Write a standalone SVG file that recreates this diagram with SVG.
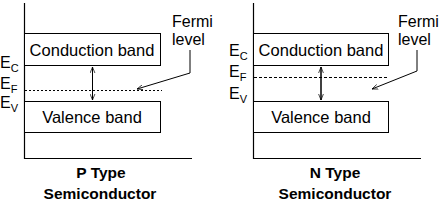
<svg xmlns="http://www.w3.org/2000/svg" width="445" height="202" viewBox="0 0 445 202">
<style>
.box{fill:#fff;stroke:#000;stroke-width:1}
.ax{fill:none;stroke:#000;stroke-width:1.2}
.t{font-family:"Liberation Sans",Arial,sans-serif;fill:#000}
.band{font-size:16.5px;text-anchor:middle}
.e{font-size:16px}
.sub{font-size:11px}
.lab{font-size:16px}
.cap{font-size:15.5px;font-weight:bold;text-anchor:middle}
.ptr{fill:none;stroke:#000;stroke-width:1}
</style>
<defs>
<marker id="ah" viewBox="0 0 10 10" refX="10" refY="5" markerWidth="6" markerHeight="6" orient="auto-start-reverse" markerUnits="userSpaceOnUse">
<polyline points="0,1 10,5 0,9" fill="none" stroke="#000" stroke-width="1.2"/>
</marker>
</defs>
<g id="p-axes">
<path class="ax" d="M24.5,3 V158.5 H192"/>
</g>
<g id="p-conduction">
<rect class="box" x="24.5" y="33.5" width="136" height="32"/>
<text class="t band" x="92" y="56">Conduction band</text>
</g>
<g id="p-valence">
<rect class="box" x="24.5" y="101.5" width="136" height="31"/>
<text class="t band" x="92" y="123">Valence band</text>
</g>
<g id="p-labels">
<text class="t e" x="0" y="68">E<tspan class="sub" dy="4">C</tspan></text>
<text class="t e" x="0" y="89">E<tspan class="sub" dy="4">F</tspan></text>
<text class="t e" x="0" y="108">E<tspan class="sub" dy="4">V</tspan></text>
<text class="t lab" x="172" y="27">Fermi</text>
<text class="t lab" x="172" y="45">level</text>
<text class="t cap" x="101" y="178">P Type</text>
<text class="t cap" x="100" y="199">Semiconductor</text>
</g>
<g id="n-axes">
<path class="ax" d="M253.5,3 V158.5 H421"/>
</g>
<g id="n-conduction">
<rect class="box" x="253.5" y="33.5" width="135" height="32"/>
<text class="t band" x="321" y="56">Conduction band</text>
</g>
<g id="n-valence">
<rect class="box" x="253.5" y="101.5" width="135" height="31"/>
<text class="t band" x="321" y="123">Valence band</text>
</g>
<g id="n-labels">
<text class="t e" x="229" y="56">E<tspan class="sub" dy="4">C</tspan></text>
<text class="t e" x="229" y="77">E<tspan class="sub" dy="4">F</tspan></text>
<text class="t e" x="229" y="99">E<tspan class="sub" dy="4">V</tspan></text>
<text class="t lab" x="398" y="27">Fermi</text>
<text class="t lab" x="398" y="45">level</text>
<text class="t cap" x="335" y="178">N Type</text>
<text class="t cap" x="335" y="199">Semiconductor</text>
</g>
<g id="connectors">
<line x1="25" y1="90.5" x2="162" y2="90.5" stroke="#000" stroke-width="1" stroke-dasharray="2,2"/>
<line x1="254" y1="77.5" x2="388" y2="77.5" stroke="#000" stroke-width="1" stroke-dasharray="3,2"/>
<line x1="92.5" y1="67" x2="92.5" y2="100" stroke="#000" stroke-width="1" marker-start="url(#ah)" marker-end="url(#ah)"/>
<line x1="321" y1="67" x2="321" y2="100" stroke="#000" stroke-width="1.5" marker-start="url(#ah)" marker-end="url(#ah)"/>
<polyline class="ptr" points="190,50 190,73 137,89" marker-end="url(#ah)"/>
<polyline class="ptr" points="417,50 417,71 372,89" marker-end="url(#ah)"/>
</g>
</svg>
